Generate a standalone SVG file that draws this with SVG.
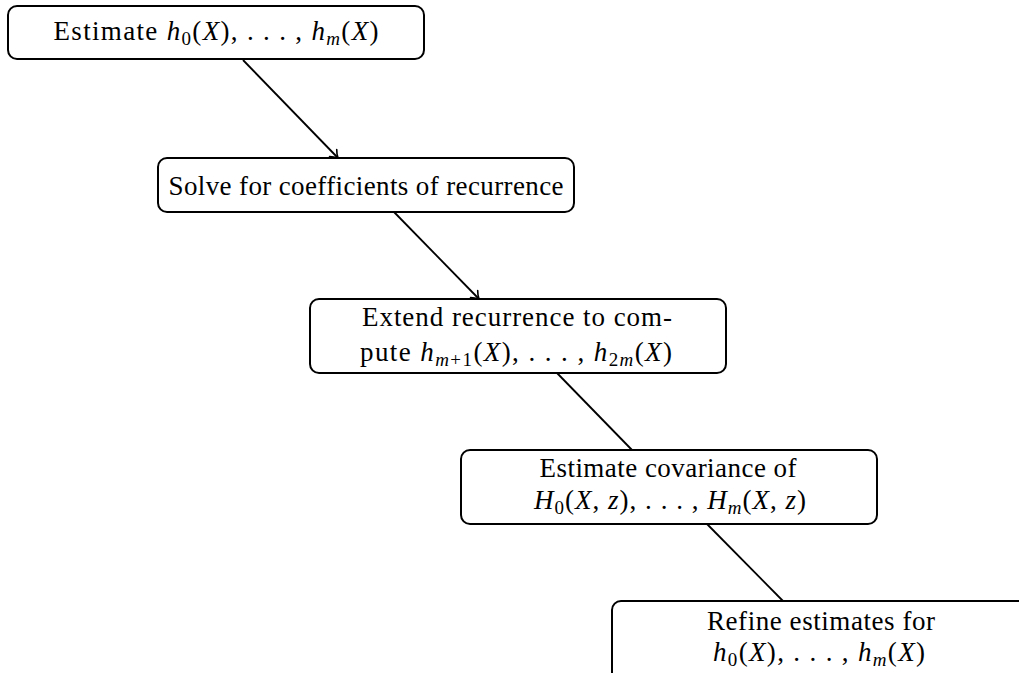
<svg xmlns="http://www.w3.org/2000/svg" width="1019" height="673" viewBox="0 0 1019 673">
<style>
.box{fill:#fff;stroke:#000;stroke-width:2}
.lbl{font-family:"Liberation Serif","Times New Roman",serif;font-size:27px;fill:#000;text-anchor:middle}
.m{font-style:italic}
.s{font-size:19px}
.edge{stroke:#000;stroke-width:1.8;fill:none}
</style>
<defs>
<marker id="ah" viewBox="-8 -6 10 12" markerWidth="10" markerHeight="12" refX="0" refY="0" orient="auto" markerUnits="userSpaceOnUse">
<path d="M-7,-5 C-4,-2 -1,-0.5 0,0 C-1,0.5 -4,2 -7,5" fill="none" stroke="#000" stroke-width="1.6" stroke-linecap="round"/>
</marker>
</defs>
<g id="connectors">
<path class="edge" d="M243,60 L338,158" marker-end="url(#ah)"/>
<path class="edge" d="M394,212 L479,299" marker-end="url(#ah)"/>
<path class="edge" d="M557,373 L632,450"/>
<path class="edge" d="M707,524 L783,601"/>
</g>
<g id="n1">
<rect class="box" x="8" y="6" width="416" height="53" rx="9"/>
<text class="lbl" x="216" y="40" textLength="325" lengthAdjust="spacing">Estimate <tspan class="m">h</tspan><tspan class="s" dy="5">0</tspan><tspan dy="-5">(</tspan><tspan class="m">X</tspan>), . . . , <tspan class="m">h</tspan><tspan class="s m" dy="5">m</tspan><tspan dy="-5">(</tspan><tspan class="m">X</tspan>)</text>
</g>
<g id="n2">
<rect class="box" x="158" y="158" width="416" height="54" rx="9"/>
<text class="lbl" x="366" y="195" textLength="395" lengthAdjust="spacing">Solve for coefficients of recurrence</text>
</g>
<g id="n3">
<rect class="box" x="310" y="299" width="416" height="74" rx="9"/>
<text class="lbl" x="517" y="326" textLength="310" lengthAdjust="spacing">Extend recurrence to com-</text>
<text class="lbl" x="516" y="361" textLength="312" lengthAdjust="spacing">pute <tspan class="m">h</tspan><tspan class="s" dy="5"><tspan class="m">m</tspan>+1</tspan><tspan dy="-5">(</tspan><tspan class="m">X</tspan>), . . . , <tspan class="m">h</tspan><tspan class="s" dy="5">2<tspan class="m">m</tspan></tspan><tspan dy="-5">(</tspan><tspan class="m">X</tspan>)</text>
</g>
<g id="n4">
<rect class="box" x="461" y="450" width="416" height="74" rx="9"/>
<text class="lbl" x="668" y="477" textLength="257" lengthAdjust="spacing">Estimate covariance of</text>
<text class="lbl" x="670" y="509" textLength="272" lengthAdjust="spacing"><tspan class="m">H</tspan><tspan class="s" dy="5">0</tspan><tspan dy="-5">(</tspan><tspan class="m">X</tspan>, <tspan class="m">z</tspan>), . . . , <tspan class="m">H</tspan><tspan class="s m" dy="5">m</tspan><tspan dy="-5">(</tspan><tspan class="m">X</tspan>, <tspan class="m">z</tspan>)</text>
</g>
<g id="n5">
<rect class="box" x="612" y="601" width="416" height="80" rx="9"/>
<text class="lbl" x="821" y="630" textLength="228" lengthAdjust="spacing">Refine estimates for</text>
<text class="lbl" x="819" y="661" textLength="212" lengthAdjust="spacing"><tspan class="m">h</tspan><tspan class="s" dy="5">0</tspan><tspan dy="-5">(</tspan><tspan class="m">X</tspan>), . . . , <tspan class="m">h</tspan><tspan class="s m" dy="5">m</tspan><tspan dy="-5">(</tspan><tspan class="m">X</tspan>)</text>
</g>
</svg>
